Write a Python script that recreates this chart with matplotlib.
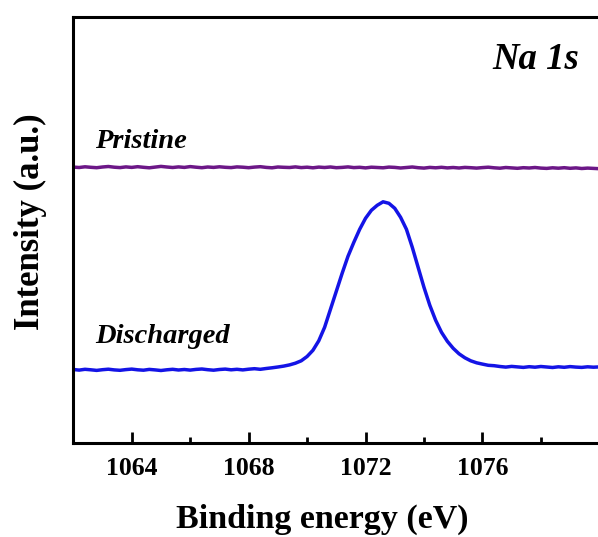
import numpy as np
import matplotlib
matplotlib.use('Agg')
import matplotlib.pyplot as plt
from matplotlib.ticker import MultipleLocator

plt.rcParams['font.family'] = ['Liberation Serif', 'DejaVu Serif']
plt.rcParams['font.weight'] = 'bold'

# binding energy grid (eV) and intensities (a.u.)
pristine = [276.2, 275.8, 276.5, 276.0, 275.6, 276.3, 276.8, 276.1, 275.7, 276.4,
            275.9, 276.6, 276.0, 275.5, 276.2, 276.9, 276.3, 275.8, 276.4, 275.9,
            276.7, 276.1, 275.6, 276.3, 275.9, 276.5, 276.0, 275.7, 276.4, 276.1,
            275.6, 276.2, 276.6, 275.9, 275.5, 276.3, 276.0, 275.8, 276.4, 275.7,
            276.1, 275.5, 276.2, 275.8, 276.3, 275.6, 275.9, 276.4, 275.7, 276.0,
            275.4, 276.1, 275.8, 275.5, 276.2, 275.9, 275.3, 275.8, 276.3, 275.6,
            275.2, 275.9, 275.5, 276.0, 275.4, 275.8, 275.3, 275.9, 275.6, 275.2,
            275.7, 276.1, 275.5, 275.1, 275.8, 275.4, 275.0, 275.6, 275.3, 275.8,
            275.2, 274.9, 275.5, 275.1, 275.6, 275.0, 275.4, 274.8, 275.2, 274.9,
            274.6]
discharged = [73.8, 73.2, 74.0, 73.5, 72.9, 73.6, 74.1, 73.4, 73.0, 73.7,
              74.2, 73.5, 73.1, 73.9, 73.4, 72.8, 73.5, 74.0, 73.3, 73.8,
              73.2, 73.9, 74.3, 73.6, 73.1, 73.8, 74.2, 73.5, 74.0, 73.4,
              74.1, 74.6, 74.0,
              74.8, 75.5, 76.3, 77.2, 78.4, 80.1, 82.5, 86.8, 93.0, 102.5,
              116.0, 134.0, 152.0, 170.0,
              187.0, 201.0, 214.0, 225.0, 233.0, 238.0, 241.5, 240.0, 235.0, 226.0,
              214.0, 196.0, 176.0, 156.0, 138.0, 123.0, 111.0, 102.0, 95.0, 89.5,
              85.5, 82.5, 80.5, 79.2, 78.0, 77.6, 76.8,
              76.2, 76.9, 76.4, 75.9, 76.6, 76.1, 76.8, 76.3, 75.8, 76.5,
              76.0, 76.7, 76.2, 75.9, 76.5, 76.1, 76.4]
energy_p = np.linspace(1062, 1080, len(pristine))
energy_d = np.linspace(1062, 1080, len(discharged))

fig = plt.figure(figsize=(5.98, 5.37), dpi=100)
ax = fig.add_axes([73.3 / 598, 1 - 443.3 / 537, 526 / 598, 426.6 / 537])

ax.plot(energy_p, pristine, color='#6c1787', lw=2.5)
ax.plot(energy_d, discharged, color='#1414e6', lw=2.5)

ax.set_xlim(1062, 1080)
ax.set_ylim(0, 426.6)
ax.set_yticks([])
ax.xaxis.set_minor_locator(MultipleLocator(2))
ax.set_xticks([1064, 1068, 1072, 1076])
ax.tick_params(axis='x', which='major', direction='in', length=8, width=2,
               labelsize=18.5, pad=10)
ax.tick_params(axis='x', which='minor', direction='in', length=4, width=2)
for s in ax.spines.values():
    s.set_linewidth(2.2)

ax.set_xlabel('Binding energy (eV)', fontsize=24.5, fontweight='bold')
ax.xaxis.set_label_coords((322 - 73.3) / 526, (443.3 - 528) / 426.6)
ax.xaxis.label.set_verticalalignment('baseline')
ax.set_ylabel('Intensity (a.u.)', fontsize=25, fontweight='bold')
ax.yaxis.set_label_coords((30 - 73.3) / 526, (443.3 - 221.5) / 426.6)
ax.yaxis.label.set_verticalalignment('center')

ax.text(0.962, 0.90, 'Na 1s', transform=ax.transAxes, ha='right', va='center',
        fontsize=26.5, fontweight='bold', fontstyle='italic')
ax.text(1062.75, 295.3, 'Pristine', ha='left', va='baseline',
        fontsize=20.5, fontweight='bold', fontstyle='italic')
ax.text(1062.75, 100, 'Discharged', ha='left', va='baseline',
        fontsize=20.5, fontweight='bold', fontstyle='italic')

fig.savefig('out.png', dpi=100)
